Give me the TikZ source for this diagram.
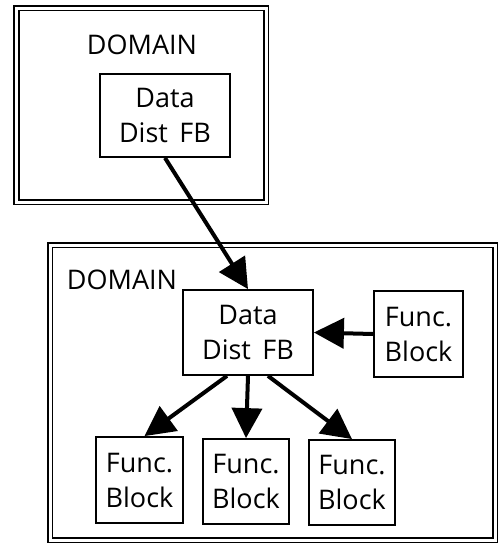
\documentclass[tikz,border=0pt]{standalone}
\usepackage{fontspec}
\setmainfont{Open Sans}
\usetikzlibrary{arrows.meta,calc}

\tikzset{
  domainbox/.style={draw, line width=1.6pt, double, double distance=3pt},
  fbox/.style={draw, line width=1.8pt, align=center, inner sep=0pt,
               font=\fontsize{27}{35}\selectfont},
  domlabel/.style={font=\fontsize{27}{30}\selectfont, inner sep=0pt},
  flow/.style={line width=4pt, -{Triangle[length=30pt,width=30pt]}}
}

\begin{document}
\begin{tikzpicture}[x=1pt,y=-1pt]
  \useasboundingbox (0,0) rectangle (499,547);

  % outer domains
  \draw[domainbox] (16.5,8) rectangle (266,202);
  \draw[domainbox] (50,245) rectangle (495,540);

  \node[domlabel] (dom1) at (142,45) {DOMAIN};
  \node[domlabel] (dom2) at (122,280) {DOMAIN};

  % function blocks
  \node[fbox, minimum width=130pt, minimum height=83pt] (dd1) at (165,115.5) {Data\\Dist\, FB};
  \node[fbox, minimum width=130pt, minimum height=85pt] (dd2) at (248,332.5) {Data\\Dist\, FB};
  \node[fbox, minimum width=89pt, minimum height=86pt] (fr) at (418.5,334) {Func.\\Block};
  \node[fbox, minimum width=87pt, minimum height=86pt] (f1) at (139.5,480) {Func.\\Block};
  \node[fbox, minimum width=86pt, minimum height=85pt] (f2) at (246,481.5) {Func.\\Block};
  \node[fbox, minimum width=86pt, minimum height=85pt] (f3) at (352,482.5) {Func.\\Block};

  % data flow
  \draw[flow] (dd1.south) -- (dd2.north);
  \draw[flow] (fr.west) -- (dd2.east);
  \draw[flow] ($(dd2.south)+(-21,0)$) -- ($(f1.north)+(5,0)$);
  \draw[flow] (dd2.south) -- (f2.north);
  \draw[flow] ($(dd2.south)+(20,0)$) -- (f3.north);
\end{tikzpicture}
\end{document}
